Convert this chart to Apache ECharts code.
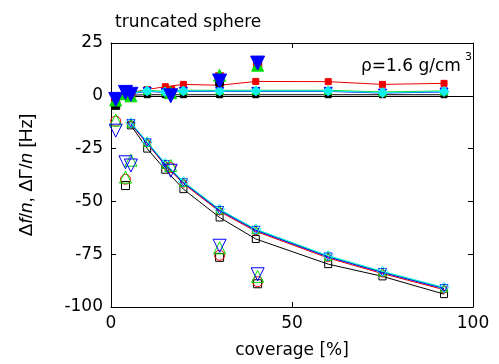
<!DOCTYPE html>
<html>
<head>
<meta charset="utf-8">
<script src="https://cdn.jsdelivr.net/npm/echarts@6/dist/echarts.min.js"></script>
<style>
html,body{margin:0;padding:0;background:#fff;}
#c{width:499px;height:364px;}
</style>
</head>
<body>
<div id="c"></div>
<script>
// ---- data ----
const xTicks = [0, 50, 100];
const yTicks = [-100, -75, -50, -25, 0, 25];

// connected measurement series (coverage %)
const xFit = [5.5, 10, 15, 20, 30, 40, 60, 75, 92];
// Δf/n (open markers)
const dfBlack = [-14, -25, -35, -44.2, -57.6, -67.8, -79.7, -85.5, -93.9];
const dfRed   = [-13.5, -22.6, -33, -41.6, -54.8, -64.2, -76.8, -84.2, -91.8];
const dfGreen = [-13, -22.1, -32.4, -41, -54, -63.4, -76, -83.4, -91];
const dfBlue  = [-13.2, -22.3, -32.6, -41.2, -54.3, -63.7, -76.3, -83.7, -91.3];
const dfCyan  = [-12.7, -21.8, -32, -40.6, -53.7, -63.1, -75.7, -83.1, -90.7];
// ΔΓ/n (filled markers)
const dgBlack = [0.3, 0.5, 0.5, 0.5, 0.5, 0.5, 0.5, 0.5, 0.5];
const dgRed   = [1.5, 3, 4.3, 5.4, 5, 6.8, 6.7, 5.4, 5.9];
const dgGreen = [1.5, 2.6, 2.1, 2.6, 2.6, 2.6, 2.6, 1.8, 2.3];
const dgBlue  = [1, 2.1, 1.6, 2.1, 2.1, 2.1, 2.1, 1.3, 1.8];
const dgCyan  = [1.2, 2.3, 1.8, 2.3, 2.3, 2.3, 2.3, 1.5, 2.0];

// separate (unconnected) measurements
const xOut = [1.3, 4, 5.5, 16.5, 30, 40.5];
const dfOutBlack = [null, -42.5, null, null, -76.5, -89];
const dfOutRed   = [-12, -39.5, null, -34, -75.5, -88];
const dfOutGreen = [-11.5, -38.5, -30.5, -33, -72, -85.5];
const dfOutBlue  = [-16.5, -31.5, -33, -35.5, -71, -84.5];
const dgOutBlack = [-4.5, null, null, null, 6.5, 14];
const dgOutRed   = [-1, 0.5, 1, 2.5, 9, 14.5];
const dgOutGreen = [-2, 1, 0, 1.5, 9.7, 14.5];
const dgOutBlue  = [-1.7, 1.6, 0.7, 0, 7, 15.5];

// ---- styles ----
const C = {k:'#000000', r:'#ee0000', g:'#00dd00', b:'#0000ff', c:'#11eeee'};
const FONT = 'DejaVu Sans';

function pts(x, y){ const a=[]; x.forEach((v,i)=>{ if(y[i]!==null) a.push([v,y[i]]); }); return a; }

function lineS(x, y, color, symbol, size, filled, rotate, z){
  return {type:'line', data:pts(x,y), symbol:symbol, symbolSize:size, symbolRotate:rotate||0,
    showSymbol:true, showAllSymbol:true, animation:false, silent:true, z:z,
    lineStyle:{color:color, width:1},
    itemStyle:{color: filled? color : 'rgba(0,0,0,0)', borderColor:color, borderWidth:1}};
}
function scatS(x, y, color, symbol, size, filled, rotate, z){
  return {type:'scatter', data:pts(x,y), symbol:symbol, symbolSize:size, symbolRotate:rotate||0,
    animation:false, silent:true, z:z,
    itemStyle:{color: filled? color : 'rgba(0,0,0,0)', borderColor:color, borderWidth:1, opacity:1}};
}

const series = [
  // zero reference line
  {type:'line', data:[], z:1, markLine:{silent:true, symbol:'none', animation:false, label:{show:false},
     lineStyle:{color:'#000', width:1, type:'solid'}, data:[{yAxis:0}]}},
  // connected Δf/n
  lineS(xFit, dfBlack, C.k, 'rect', 7, false, 0, 3),
  lineS(xFit, dfRed, C.r, 'circle', 7, false, 0, 4),
  lineS(xFit, dfGreen, C.g, 'triangle', 8, false, 0, 5),
  lineS(xFit, dfBlue, C.b, 'triangle', 8, false, 180, 6),
  lineS(xFit, dfCyan, C.c, 'diamond', 10, false, 0, 7),
  // connected ΔΓ/n
  lineS(xFit, dgBlack, C.k, 'rect', 6, true, 0, 3),
  lineS(xFit, dgRed, C.r, 'rect', 6, true, 0, 4),
  lineS(xFit, dgGreen, C.g, 'triangle', 8, true, 0, 5),
  lineS(xFit, dgBlue, C.b, 'triangle', 8, true, 180, 6),
  lineS(xFit, dgCyan, C.c, 'diamond', 10, true, 0, 7),
  // separate Δf/n
  scatS(xOut, dfOutBlack, C.k, 'rect', 8, false, 0, 8),
  scatS(xOut, dfOutRed, C.r, 'circle', 10, false, 0, 9),
  scatS(xOut, dfOutGreen, C.g, 'triangle', 12, false, 0, 10),
  scatS(xOut, dfOutBlue, C.b, 'triangle', 13, false, 180, 11),
  // separate ΔΓ/n
  scatS(xOut, dgOutBlack, C.k, 'rect', 8, true, 0, 8),
  scatS(xOut, dgOutRed, C.r, 'rect', 8, true, 0, 9),
  scatS(xOut, dgOutGreen, C.g, 'triangle', 12, true, 0, 10),
  scatS(xOut, dgOutBlue, C.b, 'triangle', 14, true, 180, 11)
];

const axisBase = {
  axisLine:{show:true, onZero:false, lineStyle:{color:'#000', width:1}},
  axisTick:{show:true, inside:true, length:5, lineStyle:{color:'#000', width:1}},
  splitLine:{show:false}
};

const chart = echarts.init(document.getElementById('c'), null, {renderer:'canvas'});
chart.setOption({
  animation:false,
  backgroundColor:'#fff',
  title:{text:'truncated sphere', left:110, top:9,
    textStyle:{fontFamily:FONT, fontSize:17, fontWeight:'normal', color:'#000'}},
  grid:{left:111, right:26, top:43, bottom:56, containLabel:false},
  xAxis:[
    Object.assign({type:'value', position:'bottom', min:xTicks[0], max:xTicks[xTicks.length-1], interval:xTicks[1]-xTicks[0],
      axisLabel:{fontFamily:FONT, fontSize:17, color:'#000', margin:8},
      name:'coverage [%]', nameLocation:'middle', nameGap:35,
      nameTextStyle:{fontFamily:FONT, fontSize:17, color:'#000'}}, axisBase),
    Object.assign({type:'value', position:'top', min:xTicks[0], max:xTicks[xTicks.length-1], interval:xTicks[1]-xTicks[0],
      axisLabel:{show:false}}, axisBase)
  ],
  yAxis:[
    Object.assign({type:'value', position:'left', min:yTicks[0], max:yTicks[yTicks.length-1], interval:yTicks[1]-yTicks[0],
      axisLabel:{fontFamily:FONT, fontSize:17, color:'#000', margin:8},
      name:'{r|Δ}{i|f}{r|/}{i|n}{r|, ΔΓ/}{i|n}{r| [Hz]}', nameLocation:'middle', nameGap:75, nameRotate:90,
      nameTextStyle:{fontFamily:'Liberation Sans', fontSize:19, color:'#000',
        rich:{r:{fontFamily:'Liberation Sans', fontSize:19, color:'#000'},
              i:{fontFamily:'Liberation Sans', fontSize:19, color:'#000', fontStyle:'italic'}}}}, axisBase),
    Object.assign({type:'value', position:'right', min:yTicks[0], max:yTicks[yTicks.length-1], interval:yTicks[1]-yTicks[0],
      axisLabel:{show:false}}, axisBase)
  ],
  graphic:[
    {type:'text', left:361, top:58, silent:true,
     style:{text:'ρ=1.6 g/cm', font:'17px "DejaVu Sans"', fill:'#000'}},
    {type:'text', left:465, top:52, silent:true,
     style:{text:'3', font:'11px "DejaVu Sans"', fill:'#000'}}
  ],
  series:series
});
</script>
</body>
</html>
